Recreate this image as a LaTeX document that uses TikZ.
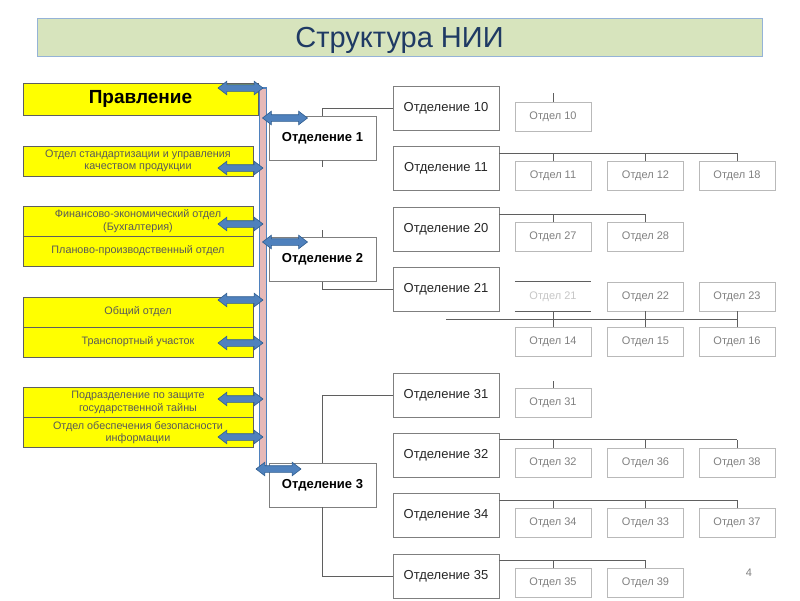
\documentclass[tikz,border=0pt]{standalone}
\usepackage{fontspec}
\setmainfont{Liberation Sans}
\usetikzlibrary{shapes.arrows}
\definecolor{niititle}{HTML}{1F3A64}
\definecolor{niiband}{HTML}{D7E4BD}
\definecolor{niibandline}{HTML}{95B3D7}
\definecolor{niiyellow}{HTML}{FFFF00}
\definecolor{niiybord}{HTML}{5F5F5F}
\definecolor{niiytext}{HTML}{595959}
\definecolor{niiarrow}{HTML}{4F81BD}
\definecolor{niiarrowline}{HTML}{2F5D8F}
\definecolor{niibar}{HTML}{E6B9B8}
\definecolor{niigray}{HTML}{7F7F7F}
\definecolor{niidark}{HTML}{262626}
\begin{document}
\begin{tikzpicture}[
  x=1pt, y=-1pt,
  every node/.style={font=\fontsize{10.8}{12.5}\selectfont},
  titlebox/.style={rectangle, draw=niibandline, fill=niiband, line width=1pt, minimum width=725pt, minimum height=38pt, inner sep=0pt, text depth=0pt, text=niititle, font=\fontsize{29}{32}\selectfont},
  ybox/.style={rectangle, draw=niiybord, fill=niiyellow, minimum width=230pt, minimum height=30pt, inner sep=0pt, align=center, text=niiytext, font=\fontsize{10.8}{12.5}\selectfont},
  depbox/.style={rectangle, draw=niigray, fill=white, minimum width=107pt, minimum height=44pt, inner sep=0pt, text=black, font=\bfseries\fontsize{13}{15}\selectfont},
  subbox/.style={rectangle, draw=niigray, fill=white, minimum width=106pt, minimum height=44pt, inner sep=0pt, text=niidark, font=\fontsize{13}{15}\selectfont},
  unitbox/.style={rectangle, draw=gray!55, minimum width=76pt, minimum height=29pt, inner sep=0pt, text=gray, font=\fontsize{11}{13}\selectfont},
  link/.style={draw=niiybord, line width=0.7pt},
  blockarrow/.style={double arrow, draw=niiarrowline, fill=niiarrow, line width=0.6pt, minimum height=45pt, inner xsep=0pt, inner ysep=3pt, double arrow head extend=3.5pt, double arrow tip angle=75},
]
\useasboundingbox (0,0) rectangle (800,600);
\node[titlebox] (title) at (399.5, 37) {Структура НИИ};

\node[ybox, minimum width=235pt, minimum height=32pt, text=black, font=\bfseries\fontsize{19}{21}\selectfont] (prav) at (140.5, 99) {Правление};
\node[ybox] (std) at (138, 161) {Отдел стандартизации и управления\\качеством продукции};
\node[ybox] (fin) at (138, 221) {Финансово-экономический отдел\\(Бухгалтерия)};
\node[ybox] (plan) at (138, 251) {Планово-производственный отдел};
\node[ybox] (obsh) at (138, 312) {Общий отдел};
\node[ybox] (trans) at (138, 342) {Транспортный участок};
\node[ybox] (taina) at (138, 402.5) {Подразделение по защите\\государственной тайны};
\node[ybox] (bezop) at (138, 432.5) {Отдел обеспечения безопасности\\информации};

\node[rectangle, draw=niiarrow, fill=niibar, line width=1.6pt, minimum width=7pt, minimum height=378pt, inner sep=0pt] (bar) at (263, 277) {};

\node[blockarrow] (apr) at (240.5, 88) {};
\node[blockarrow] (astd) at (240.5, 168) {};
\node[blockarrow] (afin) at (240.5, 224) {};
\node[blockarrow] (aobsh) at (240.5, 300) {};
\node[blockarrow] (atrans) at (240.5, 343) {};
\node[blockarrow] (ataina) at (240.5, 399) {};
\node[blockarrow] (abezop) at (240.5, 437) {};

\node[depbox] (otd1) at (322.5, 138) {Отделение 1};
\node[depbox] (otd2) at (322.5, 259.5) {Отделение 2};
\node[depbox] (otd3) at (322.5, 485) {Отделение 3};
\node[blockarrow] (aotd1) at (285, 118) {};
\node[blockarrow] (aotd2) at (285, 242) {};
\node[blockarrow] (aotd3) at (278.5, 469) {};

\node[subbox] (o10) at (446, 108) {Отделение 10};
\node[subbox] (o11) at (446, 168) {Отделение 11};
\node[subbox] (o20) at (446, 229) {Отделение 20};
\node[subbox] (o21) at (446, 289) {Отделение 21};
\node[subbox] (o31) at (446, 395) {Отделение 31};
\node[subbox] (o32) at (446, 455) {Отделение 32};
\node[subbox] (o34) at (446, 515) {Отделение 34};
\node[subbox] (o35) at (446, 576) {Отделение 35};

\node[unitbox] (d10) at (553, 116.5) {Отдел 10};
\node[unitbox] (d11) at (553, 176) {Отдел 11};
\node[unitbox] (d12) at (645.5, 176) {Отдел 12};
\node[unitbox] (d18) at (737, 176) {Отдел 18};
\node[unitbox] (d27) at (553, 237) {Отдел 27};
\node[unitbox] (d28) at (645.5, 237) {Отдел 28};
\node[unitbox, draw=none, text=gray!45] (d21) at (553, 296.5) {Отдел 21};
\node[unitbox] (d22) at (645.5, 296.5) {Отдел 22};
\node[unitbox] (d23) at (737, 296.5) {Отдел 23};
\node[unitbox] (d14) at (553, 342) {Отдел 14};
\node[unitbox] (d15) at (645.5, 342) {Отдел 15};
\node[unitbox] (d16) at (737, 342) {Отдел 16};
\node[unitbox] (d31) at (553, 402.5) {Отдел 31};
\node[unitbox] (d32) at (553, 462.5) {Отдел 32};
\node[unitbox] (d36) at (645.5, 462.5) {Отдел 36};
\node[unitbox] (d38) at (737, 462.5) {Отдел 38};
\node[unitbox] (d34) at (553, 523) {Отдел 34};
\node[unitbox] (d33) at (645.5, 523) {Отдел 33};
\node[unitbox] (d37) at (737, 523) {Отдел 37};
\node[unitbox] (d35) at (553, 583) {Отдел 35};
\node[unitbox] (d39) at (645.5, 583) {Отдел 39};

\node[text=gray, font=\fontsize{11}{13}\selectfont] (page) at (749, 573) {4};

% links of the departments
\draw[link] (otd1.north) |- (o10.west);
\draw[link] (otd2.south) |- (o21.west);
\draw[link] (otd3.north) |- (o31.west);
\draw[link] (otd3.south) |- (o35.west);
\draw[link] (otd1.south) -- ++(0,7);
\draw[link] (otd2.north) -- ++(0,-7);
\draw[link] (d10.north) -- ++(0,-9);
\draw[link] (d31.north) -- ++(0,-7);

\coordinate (b11) at ([yshift=8pt]d11.north);
\draw[link] (b11 -| o11.east) -- (b11 -| d18.north);
\draw[link] (d11.north) -- (d11.north |- b11);
\draw[link] (d12.north) -- (d12.north |- b11);
\draw[link] (d18.north) -- (d18.north |- b11);

\coordinate (b20) at ([yshift=8pt]d27.north);
\draw[link] (b20 -| o20.east) -- (b20 -| d28.north);
\draw[link] (d27.north) -- (d27.north |- b20);
\draw[link] (d28.north) -- (d28.north |- b20);

\coordinate (b21) at ([yshift=-8pt]d21.south);
\draw[link] (b21 -| o21.south) -- (b21 -| d16.north);
\draw[link] (d21.south) -- (d14.north);
\draw[link] (d22.south) -- (d15.north);
\draw[link] (d23.south) -- (d16.north);
\draw[link] (d21.north west) -- (d21.north east);
\draw[link] (d21.south west) -- (d21.south east);

\coordinate (b32) at ([yshift=8pt]d32.north);
\draw[link] (b32 -| o32.east) -- (b32 -| d38.north);
\draw[link] (d32.north) -- (d32.north |- b32);
\draw[link] (d36.north) -- (d36.north |- b32);
\draw[link] (d38.north) -- (d38.north |- b32);

\coordinate (b34) at ([yshift=8pt]d34.north);
\draw[link] (b34 -| o34.east) -- (b34 -| d37.north);
\draw[link] (d34.north) -- (d34.north |- b34);
\draw[link] (d33.north) -- (d33.north |- b34);
\draw[link] (d37.north) -- (d37.north |- b34);

\coordinate (b35) at ([yshift=8pt]d35.north);
\draw[link] (b35 -| o35.east) -- (b35 -| d39.north);
\draw[link] (d35.north) -- (d35.north |- b35);
\draw[link] (d39.north) -- (d39.north |- b35);
\end{tikzpicture}
\end{document}
